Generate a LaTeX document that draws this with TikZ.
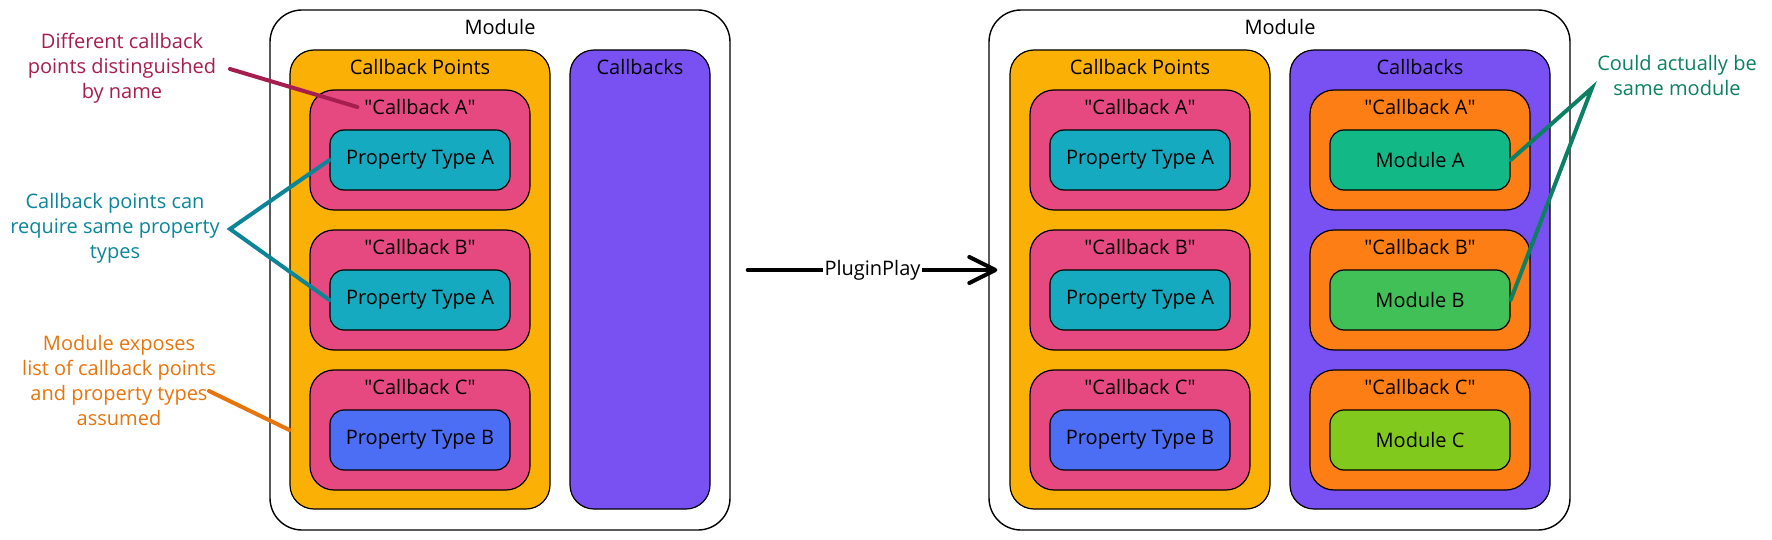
\documentclass[tikz,border=0pt]{standalone}
\usepackage{fontspec}
\setmainfont{Open Sans}
\usetikzlibrary{arrows.meta}
\definecolor{cpyellow}{HTML}{FAB005}
\definecolor{cbpurple}{HTML}{7950F2}
\definecolor{ptpink}{HTML}{E64980}
\definecolor{ptcyan}{HTML}{15AABF}
\definecolor{ptblue}{HTML}{4C6EF5}
\definecolor{cborange}{HTML}{FD7E14}
\definecolor{modgreenA}{HTML}{12B886}
\definecolor{modgreenB}{HTML}{40C057}
\definecolor{modlime}{HTML}{82C91E}
\definecolor{notemag}{HTML}{A61E4D}
\definecolor{noteteal}{HTML}{0C8599}
\definecolor{noteorange}{HTML}{E8740C}
\definecolor{notegreen}{HTML}{0B8063}
\newcommand{\cbname}[1]{\textquotedbl#1\textquotedbl}
\begin{document}
\begin{tikzpicture}[x=0.5pt,y=-0.5pt, every node/.style={font=\fontsize{10}{12}\selectfont},
  outer/.style={draw,line width=0.7pt,rounded corners=16pt,minimum height=260pt,inner sep=0pt},
  group/.style={draw,line width=0.6pt,rounded corners=12pt,minimum width=130pt,minimum height=229.5pt,inner sep=0pt},
  cbpt/.style={draw,line width=0.6pt,rounded corners=12pt,minimum width=110pt,minimum height=60pt,inner sep=0pt},
  inner/.style={draw,line width=0.6pt,rounded corners=7pt,minimum width=90pt,minimum height=30pt,inner sep=0pt},
  note/.style={align=center,font=\fontsize{10}{12.5}\selectfont},
  pointer/.style={line width=2pt,line cap=round}]
\useasboundingbox (0,0) rectangle (1772,540);
% left module
\node[outer,minimum width=230pt] (modL) at (500,270) {};
\node[group,fill=cpyellow] (cpL) at (420,279.5) {};
\node[group,fill=cbpurple,minimum width=70pt] (cbL) at (640,279.5) {};
\node[cbpt,fill=ptpink] (pA) at (420,150) {};
\node[cbpt,fill=ptpink] (pB) at (420,290) {};
\node[cbpt,fill=ptpink] (pC) at (420,430) {};
\node[inner,fill=ptcyan] (ptA) at (420,160) {Property Type A};
\node[inner,fill=ptcyan] (ptB) at (420,300) {Property Type A};
\node[inner,fill=ptblue] (ptC) at (420,440) {Property Type B};
\node (tmodL) at (500,27) {Module};
\node (tcpL) at (420,67) {Callback Points};
\node (tcbL) at (640,67) {Callbacks};
\node (tpA) at (420,107) {\cbname{Callback A}};
\node (tpB) at (420,247) {\cbname{Callback B}};
\node (tpC) at (420,387) {\cbname{Callback C}};
% right module
\node[outer,minimum width=290.5pt] (modR) at (1279.5,270) {};
\node[group,fill=cpyellow] (cpR) at (1140,279.5) {};
\node[group,fill=cbpurple] (cbR) at (1420,279.5) {};
\node[cbpt,fill=ptpink] (qA) at (1140,150) {};
\node[cbpt,fill=ptpink] (qB) at (1140,290) {};
\node[cbpt,fill=ptpink] (qC) at (1140,430) {};
\node[inner,fill=ptcyan] (qtA) at (1140,160) {Property Type A};
\node[inner,fill=ptcyan] (qtB) at (1140,300) {Property Type A};
\node[inner,fill=ptblue] (qtC) at (1140,440) {Property Type B};
\node[cbpt,fill=cborange] (oA) at (1420,150) {};
\node[cbpt,fill=cborange] (oB) at (1420,290) {};
\node[cbpt,fill=cborange] (oC) at (1420,430) {};
\node[inner,fill=modgreenA] (mA) at (1420,160) {Module A};
\node[inner,fill=modgreenB] (mB) at (1420,300) {Module B};
\node[inner,fill=modlime] (mC) at (1420,440) {Module C};
\node (tmodR) at (1280,27) {Module};
\node (tcpR) at (1140,67) {Callback Points};
\node (tcbR) at (1420,67) {Callbacks};
\node (tqA) at (1140,107) {\cbname{Callback A}};
\node (tqB) at (1140,247) {\cbname{Callback B}};
\node (tqC) at (1140,387) {\cbname{Callback C}};
\node (toA) at (1420,107) {\cbname{Callback A}};
\node (toB) at (1420,247) {\cbname{Callback B}};
\node (toC) at (1420,387) {\cbname{Callback C}};
% transformation arrow
\draw[line width=2pt,line cap=round,-{Straight Barb[length=13pt,width=13pt,round]}] ([xshift=8.5pt]modL.east) -- ([xshift=4.5pt]modR.west)
  node[midway,fill=white,inner sep=1pt] (plug) {PluginPlay};
% notes
\node[note,text=notemag] (nName) at (122,68) {Different callback\\points distinguished\\by name};
\node[note,text=noteteal] (nSame) at (115,228) {Callback points can\\require same property\\types};
\node[note,text=noteorange] (nList) at (119,380) {Module exposes\\list of callback points\\and property types\\assumed};
\node[note,text=notegreen] (nMod) at (1677,76) {Could actually be\\same module};
\coordinate (cName) at (230,69);
\coordinate (cSame) at (230,229);
\coordinate (cList) at (209,391);
\coordinate (cMod) at (1592,88);
\draw[pointer,notemag] (cName) -- (tpA.west);
\draw[pointer,noteteal] (ptA.west) -- (cSame) -- (ptB.west);
\draw[pointer,noteorange] (cList) -- (cpL.west |- pC.center);
\draw[pointer,notegreen] (mA.east) -- (cMod) -- (mB.east);
\end{tikzpicture}
\end{document}
